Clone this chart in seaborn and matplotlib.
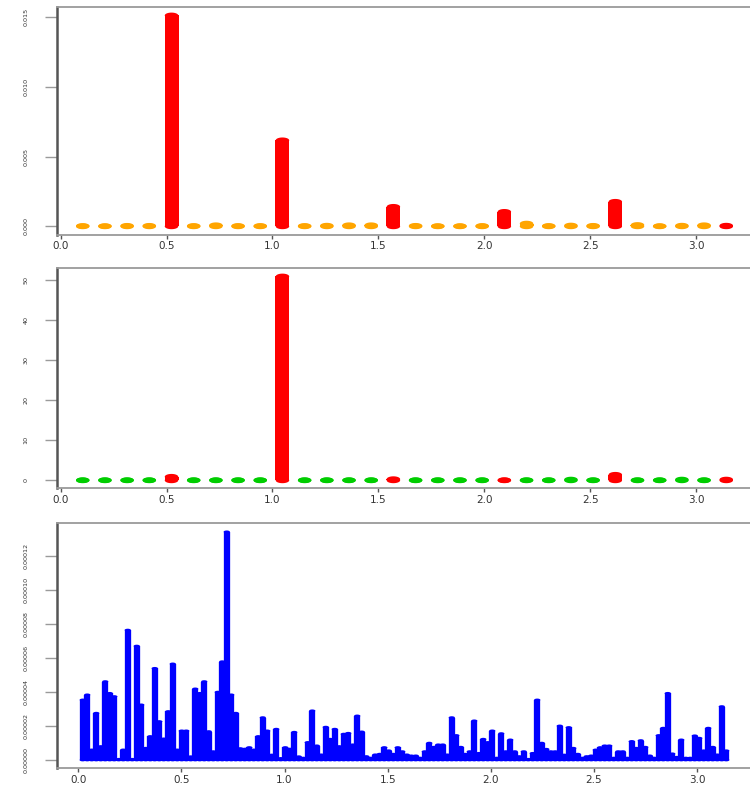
import numpy as np
import pandas as pd
import matplotlib
matplotlib.use("Agg")
import matplotlib.pyplot as plt
from matplotlib.path import Path
from matplotlib.markers import MarkerStyle
from matplotlib.ticker import FixedLocator, FormatStrFormatter
import seaborn as sns

# ---- data -------------------------------------------------------------
# short spectra: Fourier frequencies k*pi/30, k = 1..30
freq_short = np.arange(1, 31) * np.pi / 30
is_harmonic = (np.arange(1, 31) % 5 == 0)

spec_top = [0.00003, 0.00002, 0.00004, 0.00004, 0.01510,
            0.00003, 0.00008, 0.00003, 0.00003, 0.00616,
            0.00003, 0.00005, 0.00008, 0.00008, 0.00140,
            0.00004, 0.00002, 0.00002, 0.00003, 0.00104,
            0.00020, 0.00003, 0.00006, 0.00004, 0.00176,
            0.00010, 0.00002, 0.00005, 0.00008, 0.00005]

spec_mid = [0.05, 0.05, 0.05, 0.05, 0.90,
            0.05, 0.05, 0.05, 0.05, 51.0,
            0.05, 0.05, 0.05, 0.05, 0.30,
            0.05, 0.05, 0.05, 0.05, 0.05,
            0.05, 0.05, 0.20, 0.05, 1.40,
            0.05, 0.05, 0.20, 0.05, 0.20]

# long spectrum: k*pi/144, k = 1..144 (values in units of 1e-5)
freq_long = np.arange(1, 145) * np.pi / 144
spec_long_e5 = [
    3.54, 3.84, 0.60, 2.76, 0.80, 4.62, 3.93, 3.74, 0.05, 0.60,
    7.65, 0.05, 6.71, 3.25, 0.70, 1.39, 5.40, 2.27, 1.25, 2.86,
    5.66, 0.60, 1.72, 1.72, 0.20, 4.19, 3.93, 4.62, 1.68, 0.50,
    4.00, 5.79, 13.43, 3.84, 2.76, 0.68, 0.65, 0.74, 0.60, 1.39,
    2.50, 1.72, 0.30, 1.82, 0.10, 0.74, 0.65, 1.64, 0.20, 0.12,
    1.04, 2.90, 0.84, 0.31, 1.94, 1.23, 1.82, 0.80, 1.53, 1.58,
    0.90, 2.60, 1.66, 0.21, 0.12, 0.31, 0.35, 0.74, 0.55, 0.35,
    0.74, 0.50, 0.31, 0.25, 0.25, 0.12, 0.50, 1.00, 0.76, 0.90,
    0.90, 0.31, 2.50, 1.45, 0.76, 0.35, 0.50, 2.31, 0.40, 1.23,
    1.04, 1.72, 0.12, 1.56, 0.50, 1.19, 0.50, 0.21, 0.50, 0.05,
    0.40, 3.54, 1.00, 0.64, 0.50, 0.50, 2.01, 0.30, 1.92, 0.70,
    0.35, 0.12, 0.21, 0.25, 0.60, 0.74, 0.84, 0.84, 0.12, 0.50,
    0.50, 0.12, 1.10, 0.70, 1.15, 0.76, 0.25, 0.12, 1.45, 1.88,
    3.93, 0.37, 0.17, 1.19, 0.12, 0.12, 1.43, 1.29, 0.55, 1.88,
    0.76, 0.31, 3.15, 0.55]
spec_long = np.array(spec_long_e5) * 1e-5

x_ticks = [0.0, 0.5, 1.0, 1.5, 2.0, 2.5, 3.0]
y_ticks_top = [0.000, 0.005, 0.010, 0.015]
y_ticks_mid = [0, 10, 20, 30, 40, 50]
y_ticks_long = [0.0, 0.00002, 0.00004, 0.00006, 0.00008, 0.00010, 0.00012]

RED, ORANGE, GREEN, BLUE = "#FF0000", "#FFA500", "#00CD00", "#0000FF"

# ---- style ------------------------------------------------------------
sns.set_theme(style="white")
plt.rcParams["font.family"] = ["DejaVu Sans"]

W, H = 750, 786
fig = plt.figure(figsize=(W / 100, H / 100), dpi=100)

PX = 72 / 100  # points per pixel

# flattened round end-cap used on every spike
t = np.linspace(0, 2 * np.pi, 64)
cap = MarkerStyle(Path(np.column_stack([np.cos(t), 0.42 * np.sin(t)])))


def r_limits(v):
    lo, hi = float(np.min(v)), float(np.max(v))
    pad = 0.04 * (hi - lo)
    return lo - pad, hi + pad


def make_axes(top_px, bottom_px):
    left, right = 57, 752
    return fig.add_axes([left / W, 1 - bottom_px / H,
                         (right - left) / W, (bottom_px - top_px) / H])


def style_axes(ax, xlim, ylim, yticks, yfmt):
    ax.set_xlim(*xlim)
    ax.set_ylim(*ylim)
    ax.set_facecolor("white")
    for side in ["top", "bottom", "right"]:
        ax.spines[side].set_color("#9a9a9a")
        ax.spines[side].set_linewidth(1.3)
    ax.spines["left"].set_color("#555555")
    ax.spines["left"].set_linewidth(1.8)
    ax.xaxis.set_major_locator(FixedLocator(x_ticks))
    ax.xaxis.set_major_formatter(FormatStrFormatter("%.1f"))
    ax.yaxis.set_major_locator(FixedLocator(yticks))
    ax.yaxis.set_major_formatter(FormatStrFormatter(yfmt))
    ax.tick_params(axis="x", bottom=True, direction="out", length=3,
                   width=1, color="#555555", pad=2, labelsize=7.5,
                   labelcolor="#333333")
    ax.tick_params(axis="y", left=True, direction="out", length=12 * PX,
                   width=1, color="#9a9a9a", pad=12, labelsize=4.6,
                   labelcolor="#333333", labelrotation=90)
    for lab in ax.get_yticklabels():
        lab.set_verticalalignment("center")
    ax.set_xlabel("")
    ax.set_ylabel("")
    ax.grid(False)


def spikes(ax, x, y, colors, width_px, cap_px):
    x = np.asarray(x)
    y = np.asarray(y)
    ax.vlines(x, 0, y, colors=colors, linewidth=width_px * PX,
              capstyle="butt", zorder=2)
    df = pd.DataFrame({"x": np.concatenate([x, x]),
                       "y": np.concatenate([np.zeros_like(y), y]),
                       "c": list(colors) * 2})
    sns.scatterplot(data=df, x="x", y="y", c=df["c"], marker=cap,
                    s=(cap_px * PX) ** 2, linewidth=0, ax=ax, zorder=3,
                    legend=False)


xlim_short = r_limits(freq_short)
xlim_long = r_limits(freq_long)

# panel 1
ax1 = make_axes(7, 234.5)
cols1 = [RED if h else ORANGE for h in is_harmonic]
spikes(ax1, freq_short, spec_top, cols1, 14, 13.5)
style_axes(ax1, xlim_short, r_limits(spec_top), y_ticks_top, "%.3f")

# panel 2
ax2 = make_axes(268.3, 488.3)
cols2 = [RED if h else GREEN for h in is_harmonic]
spikes(ax2, freq_short, spec_mid, cols2, 14, 13.5)
style_axes(ax2, xlim_short, r_limits(spec_mid), y_ticks_mid, "%d")

# panel 3
ax3 = make_axes(522.7, 768.3)
spikes(ax3, freq_long, spec_long, [BLUE] * len(freq_long), 6.3, 6.3)
style_axes(ax3, xlim_long, r_limits(spec_long), y_ticks_long, "%.5f")

fig.savefig("out.png", dpi=100, facecolor="white")
